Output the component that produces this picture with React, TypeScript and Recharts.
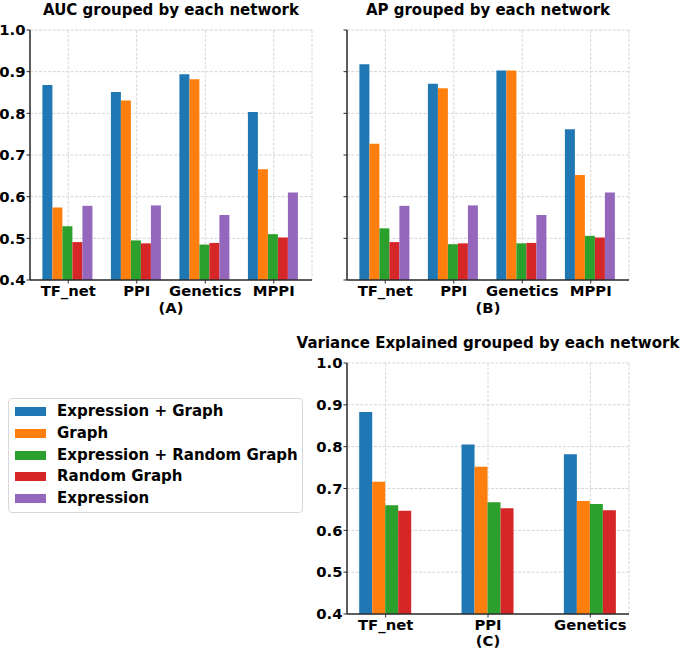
import React from 'react';
import { BarChart, Bar, XAxis, YAxis, CartesianGrid } from 'recharts';

const networks = ['TF_net', 'PPI', 'Genetics', 'MPPI'];
const networksC = ['TF_net', 'PPI', 'Genetics'];
const seriesNames = ['Expression + Graph', 'Graph', 'Expression + Random Graph', 'Random Graph', 'Expression'];
const seriesColors = ['#1f77b4', '#ff7f0e', '#2ca02c', '#d62728', '#9467bd'];
const yTicks = [0.4, 0.5, 0.6, 0.7, 0.8, 0.9, 1.0];

// AUC (A)
const aucExprGraph = [0.868, 0.851, 0.894, 0.803];
const aucGraph = [0.574, 0.831, 0.882, 0.666];
const aucExprRand = [0.529, 0.495, 0.485, 0.510];
const aucRand = [0.491, 0.488, 0.489, 0.502];
const aucExpr = [0.578, 0.579, 0.556, 0.610];

// AP (B)
const apExprGraph = [0.918, 0.871, 0.903, 0.762];
const apGraph = [0.727, 0.860, 0.903, 0.652];
const apExprRand = [0.524, 0.486, 0.488, 0.506];
const apRand = [0.491, 0.488, 0.489, 0.502];
const apExpr = [0.578, 0.579, 0.556, 0.610];

// Variance explained (C)
const veExprGraph = [0.883, 0.805, 0.782];
const veGraph = [0.716, 0.752, 0.670];
const veExprRand = [0.660, 0.667, 0.663];
const veRand = [0.647, 0.653, 0.648];

const buildRows = (cats: string[], series: number[][]) =>
  cats.map((c, i) => {
    const row: Record<string, any> = { network: c };
    series.forEach((s, k) => {
      row['s' + k] = s[i];
    });
    return row;
  });

const aucData = buildRows(networks, [aucExprGraph, aucGraph, aucExprRand, aucRand, aucExpr]);
const apData = buildRows(networks, [apExprGraph, apGraph, apExprRand, apRand, apExpr]);
const veData = buildRows(networksC, [veExprGraph, veGraph, veExprRand, veRand]);

const FONT = "'DejaVu Sans', sans-serif";
const tickStyle = { fill: '#000', fontSize: 14.8, fontWeight: 'bold', fontFamily: FONT };
const frame = '#2b2b2b';

type PanelProps = {
  data: any[];
  nSeries: number;
  width: number;
  height: number;
  margin: any;
  yWidth: number;
  xHeight: number;
  showYLabels: boolean;
  pad: number;
  gap: number;
};

const Panel = ({ data, nSeries, width, height, margin, yWidth, xHeight, showYLabels, pad, gap }: PanelProps) => (
  <BarChart width={width} height={height} data={data} margin={margin} barCategoryGap={gap} barGap={0}>
    <CartesianGrid stroke="#d6d6d6" strokeDasharray="3 1.5" />
    <XAxis
      dataKey="network"
      interval={0}
      padding={{ left: pad, right: pad }}
      height={xHeight}
      tickSize={3.5}
      tickMargin={2}
      tick={tickStyle}
      axisLine={{ stroke: frame, strokeWidth: 1.5 }}
      tickLine={{ stroke: frame }}
    />
    <XAxis xAxisId="top" orientation="top" dataKey="network" height={0} tick={false} tickLine={false} axisLine={{ stroke: frame, strokeWidth: 1.5 }} />
    <YAxis
      domain={[0.4, 1.0]}
      ticks={yTicks}
      interval={0}
      width={yWidth}
      tickSize={3.5}
      tickMargin={1}
      tick={tickStyle}
      tickFormatter={(v: number) => (showYLabels ? v.toFixed(1) : '')}
      axisLine={{ stroke: frame, strokeWidth: 1.5 }}
      tickLine={{ stroke: frame }}
      allowDataOverflow
    />
    <YAxis yAxisId="right" orientation="right" width={0} tick={false} tickLine={false} axisLine={{ stroke: frame, strokeWidth: 1.5 }} />
    {seriesNames.slice(0, nSeries).map((name, k) => (
      <Bar key={name} name={name} dataKey={'s' + k} fill={seriesColors[k]} isAnimationActive={false} />
    ))}
  </BarChart>
);

const textStyle: React.CSSProperties = {
  position: 'absolute',
  fontFamily: FONT,
  fontWeight: 'bold',
  fontSize: 15,
  lineHeight: '18px',
  whiteSpace: 'nowrap',
  transform: 'translateX(-50%)',
  color: '#000',
};

export default function App() {
  return (
    <div style={{ position: 'absolute', left: 0, top: 0, width: 685, height: 648, background: '#fff', overflow: 'hidden' }}>
      <div style={{ position: 'absolute', left: 0, top: 0 }}>
        <Panel data={aucData} nSeries={5} width={340} height={320} margin={{ top: 30, right: 28, left: 0, bottom: 0 }} yWidth={30} xHeight={40} showYLabels pad={4} gap={8.4} />
      </div>
      <div style={{ position: 'absolute', left: 330, top: 0 }}>
        <Panel data={apData} nSeries={5} width={340} height={320} margin={{ top: 30, right: 41, left: 0, bottom: 0 }} yWidth={17} xHeight={40} showYLabels={false} pad={4} gap={8.4} />
      </div>
      <div style={{ position: 'absolute', left: 300, top: 330 }}>
        <Panel data={veData} nSeries={4} width={385} height={318} margin={{ top: 33, right: 56, left: 17, bottom: 0 }} yWidth={30} xHeight={34} showYLabels pad={-12.5} gap={24.7} />
      </div>

      <div style={{ ...textStyle, left: 171, top: 1 }}>AUC grouped by each network</div>
      <div style={{ ...textStyle, left: 488, top: 1 }}>AP grouped by each network</div>
      <div style={{ ...textStyle, left: 488, top: 334 }}>Variance Explained grouped by each network</div>
      <div style={{ ...textStyle, left: 171, top: 299, fontSize: 14.8 }}>(A)</div>
      <div style={{ ...textStyle, left: 488, top: 299, fontSize: 14.8 }}>(B)</div>
      <div style={{ ...textStyle, left: 488, top: 632, fontSize: 14.8 }}>(C)</div>

      <div
        style={{
          position: 'absolute',
          left: 8,
          top: 398,
          width: 295,
          height: 115,
          border: '1px solid #d8d8d8',
          borderRadius: 4,
          boxSizing: 'border-box',
          background: '#fff',
          paddingTop: 2,
        }}
      >
        {seriesNames.map((name, k) => (
          <div key={name} style={{ position: 'relative', height: 21.8 }}>
            <div style={{ position: 'absolute', left: 6, top: 6, width: 31, height: 9, background: seriesColors[k] }} />
            <div
              style={{
                position: 'absolute',
                left: 48,
                top: 1,
                fontFamily: FONT,
                fontWeight: 'bold',
                fontSize: 15,
                lineHeight: '18px',
                whiteSpace: 'nowrap',
                color: '#000',
              }}
            >
              {name}
            </div>
          </div>
        ))}
      </div>
    </div>
  );
}
